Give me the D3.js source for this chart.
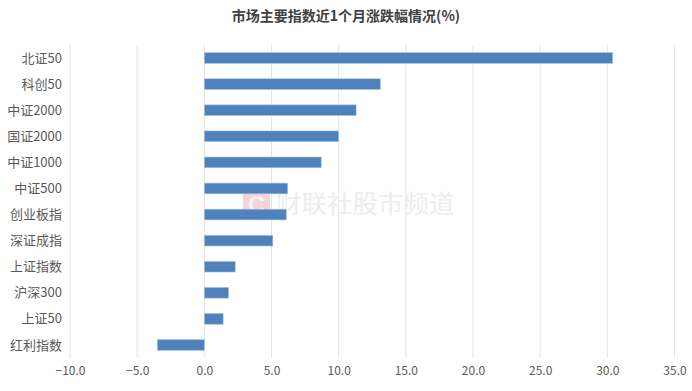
<!DOCTYPE html>
<html><head><meta charset="utf-8">
<script src="https://cdn.jsdelivr.net/npm/d3@7"></script>
<style>body{margin:0;background:#fff;font-family:"Microsoft YaHei","Noto Sans CJK SC",sans-serif;}</style>
</head><body><svg id="c" width="692" height="391"></svg>
<script>
const categories = ["北证50","科创50","中证2000","国证2000","中证1000","中证500","创业板指","深证成指","上证指数","沪深300","上证50","红利指数"];
const values = [30.4, 13.1, 11.3, 10.0, 8.7, 6.2, 6.1, 5.1, 2.3, 1.8, 1.4, -3.5];
const xTicks = [-10, -5, 0, 5, 10, 15, 20, 25, 30, 35];
const title = "市场主要指数近1个月涨跌幅情况(%)";

const svg = d3.select("#c");
const font = '"Noto Sans CJK SC", sans-serif';
const m = {l: 70, r: 17.5, t: 45, b: 33};
const W = 692, H = 391;
const x = d3.scaleLinear().domain([-10, 35]).range([m.l, W - m.r]);
const y = d3.scaleBand().domain(categories).range([m.t, H - m.b]).paddingInner(0.59).paddingOuter(0.295);

// title
svg.append("text").attr("x", 346).attr("y", 21).attr("text-anchor", "middle")
  .attr("font-family", font).attr("font-size", 14).attr("font-weight", "bold")
  .attr("fill", "#404040").text(title);

// gridlines
svg.append("g").selectAll("line").data(xTicks).join("line")
  .attr("x1", d => x(d)).attr("x2", d => x(d))
  .attr("y1", m.t).attr("y2", H - m.b)
  .attr("stroke", "#e4e4e4").attr("stroke-width", 1);

// watermark
const wm = svg.append("g").attr("opacity", 0.9);
wm.append("rect").attr("x", 243).attr("y", 191).attr("width", 27).attr("height", 28).attr("rx", 5)
  .attr("fill", "#f6cfd2");
wm.append("text").attr("x", 256.5).attr("y", 213).attr("text-anchor", "middle")
  .attr("font-family", "Arial, sans-serif").attr("font-weight", "bold").attr("font-size", 23)
  .attr("fill", "#fdf1f2").text("C");
wm.append("text").attr("x", 276).attr("y", 213)
  .attr("font-family", font).attr("font-size", 25.5).attr("fill", "#ececec").text("财联社股市频道");

// bars
svg.append("g").selectAll("rect").data(values).join("rect")
  .attr("x", d => x(Math.min(0, d)))
  .attr("width", d => Math.abs(x(d) - x(0)))
  .attr("y", (d, i) => y(categories[i]))
  .attr("height", y.bandwidth())
  .attr("fill", "#4f81bd").attr("stroke", "#a9c0e0").attr("stroke-width", 0.6);

// y labels
svg.append("g").selectAll("text").data(categories).join("text")
  .attr("x", 62).attr("y", d => y(d) + y.bandwidth() / 2)
  .attr("dy", "0.35em").attr("text-anchor", "end")
  .attr("font-family", font).attr("font-size", 13).attr("fill", "#595959").text(d => d);

// x axis
const xa = svg.append("g").attr("transform", `translate(0,${H - m.b})`)
  .call(d3.axisBottom(x).tickValues(xTicks).tickFormat(d3.format(".1f")).tickSize(0).tickPadding(8));
xa.select(".domain").remove();
xa.selectAll("text").attr("font-family", font).attr("font-size", 12).attr("fill", "#595959");
</script></body></html>
